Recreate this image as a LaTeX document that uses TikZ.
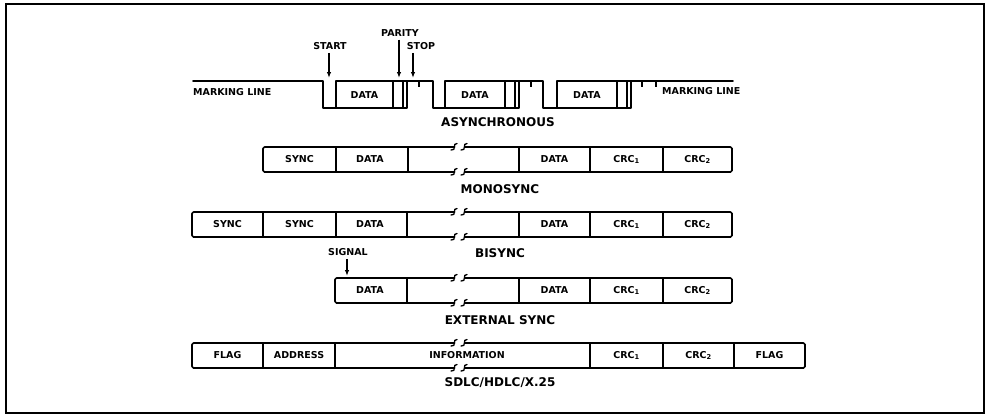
\documentclass[tikz,border=0pt]{standalone}
\usepackage{fontspec}
\setmainfont{DejaVu Sans}
\usetikzlibrary{arrows.meta}
\tikzset{
  ln/.style={line width=1.7pt, line join=round, line cap=round},
  fld/.style={line width=1.7pt, line join=round, rounded corners=1.5pt},
  dv/.style={line width=1.4pt},
  lbl/.style={font=\bfseries\fontsize{9.5}{10}\selectfont, inner sep=0pt},
  ttl/.style={font=\bfseries\fontsize{12}{13}\selectfont, inner sep=0pt},
  arr/.style={line width=1.3pt, -{Latex[length=6pt,width=4.5pt]}},
  brk/.style={line width=1.3pt, line cap=round}
}
% break mark: two small s-curves on a line at height #1
\newcommand\brkmark[1]{%
  \draw[brk] (451,#1+3) .. controls (457,#1+4) and (452,#1-4) .. (457,#1-3.5);
  \draw[brk] (461,#1+3) .. controls (467,#1+4) and (462,#1-4) .. (467,#1-3.5);
}
% framed row with a break: left x, right x, top y, bottom y
\newcommand\brkrow[4]{%
  \draw[fld] (455,#3) -- (#1,#3) -- (#1,#4) -- (455,#4);
  \draw[fld] (465,#3) -- (#2,#3) -- (#2,#4) -- (465,#4);
  \brkmark{#3}
  \brkmark{#4}
}
\begin{document}
\begin{tikzpicture}[x=1pt,y=-1pt]
\useasboundingbox (0,0) rectangle (992,416);
% outer frame
\draw[line width=1.4pt] (6,4) rectangle (984,413);

% ---------- ASYNCHRONOUS ----------
\draw[ln] (193,81) -- (323,81) -- (323,108) -- (407,108) -- (407,81) -- (433,81)
  -- (433,108) -- (519,108) -- (519,81) -- (543,81) -- (543,108) -- (631,108)
  -- (631,81) -- (733,81);
% character boxes
\draw[ln] (336,108) -- (336,81) -- (407,81);
\draw[dv] (393,81) -- (393,108);
\draw[dv] (403,81) -- (403,108);
\draw[ln] (445,108) -- (445,81) -- (519,81);
\draw[dv] (505,81) -- (505,108);
\draw[dv] (515,81) -- (515,108);
\draw[ln] (557,108) -- (557,81) -- (631,81);
\draw[dv] (617,81) -- (617,108);
\draw[dv] (627,81) -- (627,108);
% stop ticks
\draw[dv] (419,81) -- (419,87);
\draw[dv] (531,81) -- (531,87);
\draw[dv] (642,81) -- (642,87);
\draw[dv] (656,81) -- (656,87);
\node[lbl] (d1) at (364.5,95) {DATA};
\node[lbl] (d2) at (475,95) {DATA};
\node[lbl] (d3) at (587,95) {DATA};
\node[lbl, anchor=west] (ml1) at (193,92) {MARKING LINE};
\node[lbl, anchor=west] (ml2) at (662,91) {MARKING LINE};
\node[lbl] (lstart) at (330,46) {START};
\node[lbl] (lpar) at (400,33) {PARITY};
\node[lbl] (lstop) at (421,46) {STOP};
\coordinate (pstart) at (329,78);
\coordinate (ppar) at (399,78);
\coordinate (pstop) at (413,78);
\draw[arr] ([yshift=-3pt]lstart.south -| pstart) -- (pstart);
\draw[arr] ([yshift=-3pt]lpar.south -| ppar) -- (ppar);
\draw[arr] ([yshift=-3pt]lstop.south -| pstop) -- (pstop);
\node[ttl] (tasync) at (498,122) {ASYNCHRONOUS};

% ---------- MONOSYNC ----------
\brkrow{263}{732}{147}{172}
\foreach \x in {336,408,519,590,663} \draw[dv] (\x,147) -- (\x,172);
\node[lbl] (m1) at (299.5,159.5) {SYNC};
\node[lbl] (m2) at (370,159.5) {DATA};
\node[lbl] (m3) at (554.5,159.5) {DATA};
\node[lbl] (m4) at (626.5,159.5) {CRC\textsubscript{1}};
\node[lbl] (m5) at (697.5,159.5) {CRC\textsubscript{2}};
\node[ttl] (tmono) at (500,189) {MONOSYNC};

% ---------- BISYNC ----------
\brkrow{192}{732}{212}{237}
\foreach \x in {263,336,407,519,590,663} \draw[dv] (\x,212) -- (\x,237);
\node[lbl] (b1) at (227.5,224.5) {SYNC};
\node[lbl] (b2) at (299.5,224.5) {SYNC};
\node[lbl] (b3) at (370,224.5) {DATA};
\node[lbl] (b4) at (554.5,224.5) {DATA};
\node[lbl] (b5) at (626.5,224.5) {CRC\textsubscript{1}};
\node[lbl] (b6) at (697.5,224.5) {CRC\textsubscript{2}};
\node[ttl] (tbi) at (500,253) {BISYNC};

% ---------- EXTERNAL SYNC ----------
\node[lbl] (lsig) at (348,252) {SIGNAL};
\coordinate (psig) at (347,276);
\draw[arr] ([yshift=-3pt]lsig.south -| psig) -- (psig);
\brkrow{335}{732}{278}{303}
\foreach \x in {407,519,590,663} \draw[dv] (\x,278) -- (\x,303);
\node[lbl] (e1) at (370,290.5) {DATA};
\node[lbl] (e2) at (554.5,290.5) {DATA};
\node[lbl] (e3) at (626.5,290.5) {CRC\textsubscript{1}};
\node[lbl] (e4) at (697.5,290.5) {CRC\textsubscript{2}};
\node[ttl] (text) at (500,320) {EXTERNAL SYNC};

% ---------- SDLC/HDLC/X.25 ----------
\brkrow{192}{805}{343}{368}
\foreach \x in {263,335,590,663,734} \draw[dv] (\x,343) -- (\x,368);
\node[lbl] (s1) at (227.5,355.5) {FLAG};
\node[lbl] (s2) at (299,355.5) {ADDRESS};
\node[lbl, fill=white, inner xsep=1pt] (s3) at (467,355.5) {INFORMATION};
\node[lbl] (s4) at (626.5,355.5) {CRC\textsubscript{1}};
\node[lbl] (s5) at (698.5,355.5) {CRC\textsubscript{2}};
\node[lbl] (s6) at (769.5,355.5) {FLAG};
\node[ttl] (tsdlc) at (500,383) {SDLC/HDLC/X.25};
\end{tikzpicture}
\end{document}
